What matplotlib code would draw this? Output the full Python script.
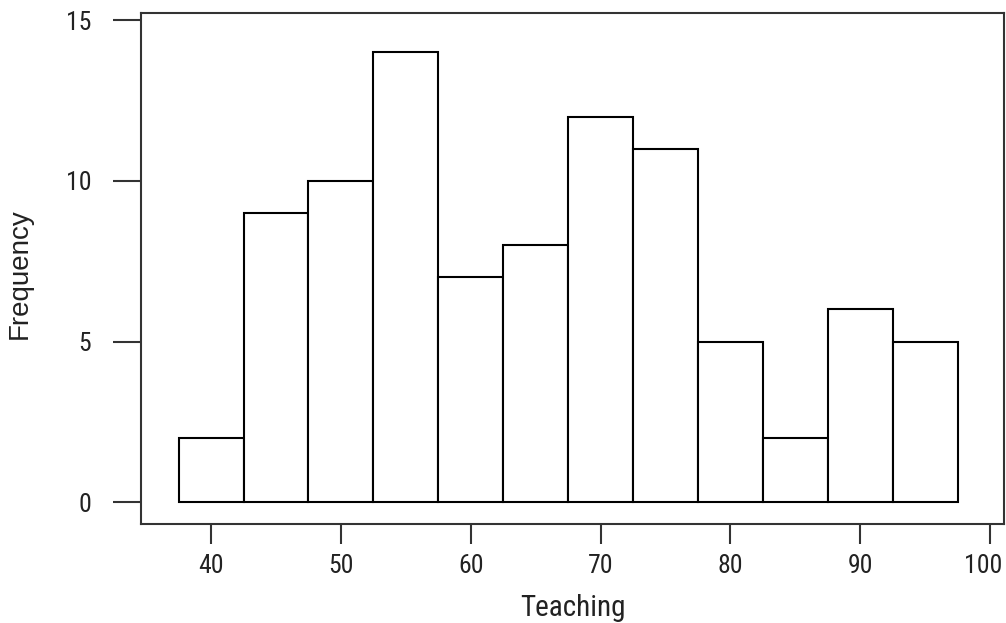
import matplotlib
matplotlib.use('Agg')
import matplotlib.pyplot as plt
import matplotlib.transforms as mtransforms
import numpy as np

# Данные гистограммы
bin_edges = [37.5, 42.5, 47.5, 52.5, 57.5, 62.5, 67.5, 72.5, 77.5, 82.5, 87.5, 92.5, 97.5]
counts = [2, 9, 10, 14, 7, 8, 12, 11, 5, 2, 6, 5]
x_ticks = [40, 50, 60, 70, 80, 90, 100]
y_ticks = [0, 5, 10, 15]

NARROW = ['Roboto Condensed', 'Archivo Narrow', 'PT Sans Narrow', 'Liberation Sans', 'DejaVu Sans']
WIDE = ['Liberation Sans', 'DejaVu Sans']
LINE = '#333333'

fig = plt.figure(figsize=(10.06, 6.23), dpi=100)
ax = fig.add_axes([141 / 1006, 1 - 524 / 623, (1004 - 141) / 1006, (524 - 12.7) / 623])

edges = np.array(bin_edges)
ax.bar(edges[:-1], counts, width=np.diff(edges), align='edge',
       facecolor='white', edgecolor='black', linewidth=1.5)

ax.set_xlim(34.6, 101.08)
ax.set_ylim(-0.675, 15.23)

for spine in ax.spines.values():
    spine.set_color(LINE)
    spine.set_linewidth(1.5)

ax.set_xticks(x_ticks)
ax.set_yticks(y_ticks)
ax.tick_params(axis='x', direction='out', length=14.4, width=1.5, color=LINE, pad=7)
ax.tick_params(axis='y', direction='out', length=20, width=1.5, color=LINE, pad=16)
for lbl in ax.get_xticklabels() + ax.get_yticklabels():
    lbl.set_family(NARROW)
    lbl.set_fontsize(18.5)
    lbl.set_color('#222222')

ax.set_xlabel('Teaching', family=NARROW, fontsize=21, color='#222222', labelpad=12)
ax.set_ylabel('Frequency', family=WIDE, fontsize=20, color='#222222')
ax.yaxis.set_label_coords(-0.125, 0.49)

# Последнюю подпись "100" чуть сдвигаем влево, чтобы она не обрезалась краем
fig.canvas.draw()
last = ax.xaxis.get_major_ticks()[-1].label1
last.set_transform(last.get_transform()
                   + mtransforms.ScaledTranslation(-5 / 72, 0, fig.dpi_scale_trans))

fig.savefig('out.png', dpi=100)
plt.close(fig)
